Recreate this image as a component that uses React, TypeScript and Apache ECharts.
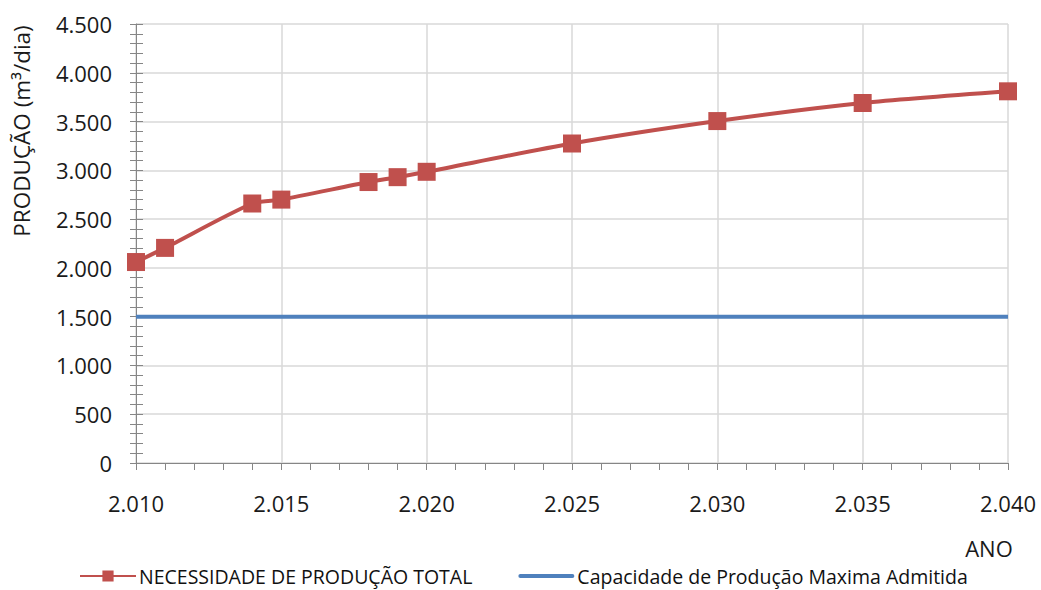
import React, { useEffect, useRef } from "react";
import * as echarts from "echarts";

const years = [2010, 2011, 2014, 2015, 2018, 2019, 2020, 2025, 2030, 2035, 2040];
const necessidade = [2060, 2205, 2660, 2700, 2880, 2930, 2985, 3275, 3505, 3690, 3810];
const capacidadeYears = [2010, 2040];
const capacidade = [1500, 1500];
const seriesNames = ["NECESSIDADE DE PRODUÇÃO TOTAL", "Capacidade de Produção Maxima Admitida"];
const yTitle = "PRODUÇÃO (m³/dia)";
const xTitle = "ANO";

const fmt = (v: number) => {
  const s = String(Math.round(v));
  return s.replace(/\B(?=(\d{3})+(?!\d))/g, ".");
};

const FONT = "'Open Sans', 'Noto Sans', sans-serif";

export default function App() {
  const ref = useRef<HTMLDivElement>(null);
  useEffect(() => {
    if (!ref.current) return;
    const chart = echarts.init(ref.current, undefined, { renderer: "svg" });
    const axisColor = "#868686";
    const gridColor = "#d9d9d9";
    chart.setOption({
      animation: false,
      backgroundColor: "#ffffff",
      textStyle: { fontFamily: FONT },
      grid: { left: 136, right: 33, top: 24, bottom: 127, containLabel: false },
      xAxis: [
        {
          type: "value",
          min: 2010,
          max: 2040,
          interval: 5,
          axisLine: { show: true, lineStyle: { color: axisColor, width: 1 } },
          axisTick: { show: true, inside: false, length: 7, lineStyle: { color: axisColor } },
          minorTick: { show: true, splitNumber: 5, length: 7, lineStyle: { color: axisColor } },
          splitLine: { show: true, lineStyle: { color: gridColor, width: 1.5 } },
          axisLabel: {
            formatter: fmt,
            color: "#1a1a1a",
            fontSize: 22,
            fontFamily: FONT,
            margin: 29,
          },
        },
      ],
      yAxis: [
        {
          type: "value",
          min: 0,
          max: 4500,
          interval: 500,
          axisLine: { show: true, lineStyle: { color: axisColor, width: 1 } },
          axisTick: { show: true, inside: false, length: 6, lineStyle: { color: axisColor } },
          minorTick: { show: true, splitNumber: 5, length: 6, lineStyle: { color: axisColor } },
          splitLine: { show: true, lineStyle: { color: gridColor, width: 1.5 } },
          axisLabel: {
            formatter: fmt,
            color: "#1a1a1a",
            fontSize: 22,
            fontFamily: FONT,
            margin: 24,
          },
        },
        {
          type: "value",
          position: "left",
          min: 0,
          max: 4500,
          interval: 500,
          axisLine: { show: false },
          axisTick: { show: true, inside: true, length: 7, lineStyle: { color: axisColor } },
          minorTick: { show: true, splitNumber: 5, length: 7, lineStyle: { color: axisColor } },
          splitLine: { show: false },
          axisLabel: { show: false },
        },
      ],
      legend: {
        left: 74,
        top: 561,
        itemGap: 46,
        itemWidth: 56,
        itemHeight: 14,
        symbolKeepAspect: true,
        textStyle: { color: "#111", fontSize: 19.5, fontFamily: FONT, lineHeight: 20, padding: [0, 0, 0, -2] },
        data: [
          { name: seriesNames[0] },
          { name: seriesNames[1], icon: "path://M2,0 H54 A2,2 0 0 1 54,4 H2 A2,2 0 0 1 2,0 Z" },
        ],
      },
      graphic: [
        {
          type: "text",
          x: 21,
          y: 131,
          rotation: Math.PI / 2,
          style: {
            text: yTitle,
            fill: "#1a1a1a",
            fontSize: 22.5,
            fontFamily: FONT,
            align: "center",
            verticalAlign: "middle",
          },
        },
        {
          type: "text",
          x: 989,
          y: 548,
          style: {
            text: xTitle,
            fill: "#1a1a1a",
            fontSize: 22,
            fontFamily: FONT,
            align: "center",
            verticalAlign: "middle",
          },
        },
      ],
      series: [
        {
          name: seriesNames[0],
          type: "line",
          data: years.map((y, i) => [y, necessidade[i]]),
          smooth: 0.25,
          symbol: "rect",
          symbolSize: 18,
          itemStyle: { color: "#C0504D" },
          lineStyle: { color: "#C0504D", width: 4 },
          z: 3,
        },
        {
          name: seriesNames[1],
          type: "line",
          data: capacidadeYears.map((y, i) => [y, capacidade[i]]),
          symbol: "none",
          itemStyle: { color: "#4F81BD" },
          lineStyle: { color: "#4F81BD", width: 4 },
          z: 2,
        },
      ],
    });
    return () => chart.dispose();
  }, []);
  return (
    <div
      ref={ref}
      style={{ position: "fixed", left: 0, top: 0, width: 1041, height: 590 }}
    />
  );
}
